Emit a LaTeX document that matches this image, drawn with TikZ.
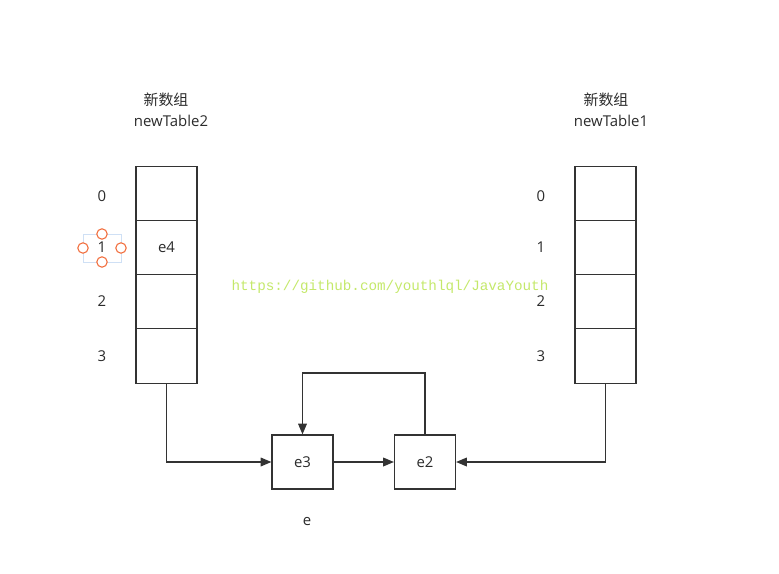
\documentclass[tikz,border=0pt]{standalone}
\usepackage{fontspec}
\setmainfont{Open Sans}
\newfontfamily\cjk{Noto Sans CJK SC}
\newfontfamily\urlfont{Liberation Mono}
\usetikzlibrary{arrows.meta, positioning}
\definecolor{lineclr}{HTML}{333333}
\definecolor{textclr}{HTML}{2B2B2B}
\definecolor{markclr}{HTML}{C4E86A}
\definecolor{handleclr}{HTML}{F26A38}
\definecolor{selclr}{HTML}{CFE0F5}

\begin{document}
\begin{tikzpicture}[
    x=0.75pt, y=-0.75pt,
    cell/.style={rectangle, draw=lineclr, line width=0.9pt, minimum width=45.75pt, minimum height=40.7pt, inner sep=0pt, font=\fontsize{11.2}{13}\selectfont, text=textclr},
    entry/.style={rectangle, draw=lineclr, line width=0.9pt, minimum width=45.75pt, minimum height=40.5pt, inner sep=0pt, font=\fontsize{11.2}{13}\selectfont, text=textclr},
    idx/.style={font=\fontsize{11.2}{13}\selectfont, text=textclr},
    title/.style={font=\fontsize{11.2}{13}\selectfont, text=textclr},
    link/.style={draw=lineclr, line width=0.9pt, -{Triangle[length=8pt, width=6.5pt]}},
    handle/.style={circle, draw=handleclr, fill=white, line width=0.8pt, minimum size=7.8pt, inner sep=0pt}
]
\useasboundingbox (0,0) rectangle (779,574);

\node[title] (t2) at (166,100) {\cjk 新数组};
\node[title] (n2) at (171,121) {newTable2};
\node[title] (t1) at (606,100) {\cjk 新数组};
\node[title] (n1) at (611,121) {newTable1};

\node[cell] (a0) at (166.5,193.5) {};
\node[cell] (a1) at (166.5,247.5) {e4};
\node[cell] (a2) at (166.5,301.5) {};
\node[cell] (a3) at (166.5,356) {};

\node[cell] (b0) at (605.5,193.5) {};
\node[cell] (b1) at (605.5,247.5) {};
\node[cell] (b2) at (605.5,301.5) {};
\node[cell] (b3) at (605.5,356) {};

\draw[selclr, line width=0.6pt] (83,234) rectangle (121,262);
\node[idx] (i0) at (102,196) {0};
\node[idx] (i1) at (102,247) {1};
\node[idx] (i2) at (102,301) {2};
\node[idx] (i3) at (102,356) {3};
\node[handle] (h1) at (102,234) {};
\node[handle] (h2) at (83,248) {};
\node[handle] (h3) at (121,248) {};
\node[handle] (h4) at (102,262) {};

\node[idx] (j0) at (541,196) {0};
\node[idx] (j1) at (541,247) {1};
\node[idx] (j2) at (541,301) {2};
\node[idx] (j3) at (541,356) {3};

\node[font=\urlfont\fontsize{10.7}{12}\selectfont, text=markclr] (url) at (390,287) {https://github.com/youthlql/JavaYouth};

\node[entry] (e3) at (302.5,462) {e3};
\node[entry] (e2) at (425,462) {e2};
\node[idx] (elbl) at (307,522) {e};

\coordinate (loop) at (363,373);
\draw[link] (a3.south) |- (e3.west);
\draw[link] (e3.east) -- (e2.west);
\draw[link] (b3.south) |- (e2.east);
\draw[link] (e2.north) |- (loop) -| (e3.north);
\end{tikzpicture}
\end{document}
